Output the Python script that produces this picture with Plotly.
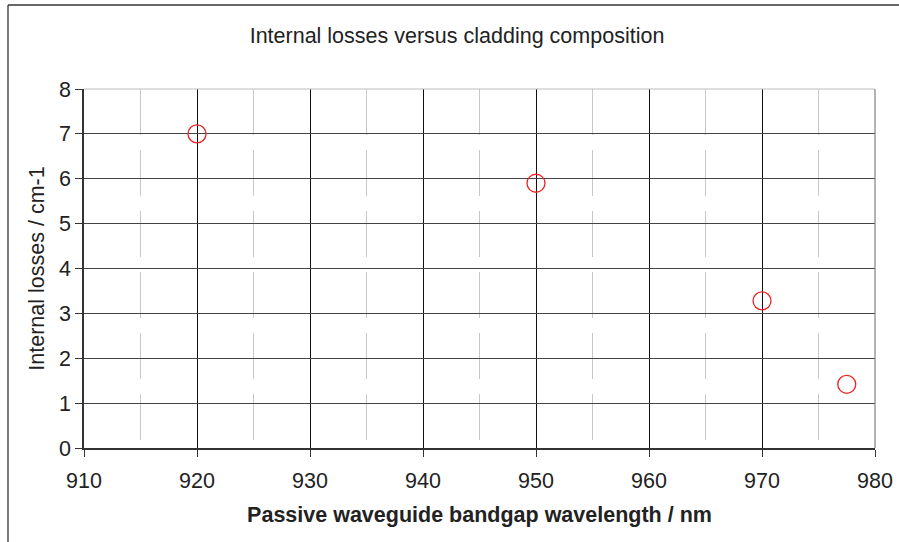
import plotly.graph_objects as go

# Data
wavelength_nm = [920, 950, 970, 977.5]
internal_losses = [7.0, 5.9, 3.28, 1.42]

x_ticks = [910, 920, 930, 940, 950, 960, 970, 980]
y_ticks = [0, 1, 2, 3, 4, 5, 6, 7, 8]

W, H = 899, 542
ML, MR, MT, MB = 84, 24, 89, 94
PW, PH = W - ML - MR, H - MT - MB

def px_x(p):
    return (p - ML) / PW

def px_y(p):
    return (H - MB - p) / PH

FONT = "Liberation Sans, Arial, sans-serif"
TXT = "#222222"
FS = 21.5

fig = go.Figure()
fig.add_trace(go.Scatter(
    x=wavelength_nm, y=internal_losses, mode="markers",
    marker=dict(symbol="circle-open", size=18, color="#ee2222",
                line=dict(width=1.3, color="#ee2222")),
    showlegend=False, cliponaxis=False,
))

fig.update_layout(
    width=W, height=H,
    margin=dict(l=ML, r=MR, t=MT, b=MB, pad=0, autoexpand=False),
    paper_bgcolor="white", plot_bgcolor="white",
    font=dict(family=FONT, color=TXT, size=FS),
    title=dict(text="Internal losses versus cladding composition",
               x=457 / W, xref="container", xanchor="center",
               y=(H - 35) / H, yanchor="middle",
               font=dict(size=FS, color=TXT, family=FONT)),
    xaxis=dict(
        range=[910, 980], tickvals=x_ticks, ticktext=[str(v) for v in x_ticks],
        automargin=False,
        showgrid=True, gridcolor="#111111", gridwidth=1,
        showline=True, linecolor="#333333", linewidth=1.5,
        ticks="outside", ticklen=7, tickcolor="#333333", tickwidth=1,
        ticklabelstandoff=5,
        tickfont=dict(size=FS, color=TXT),
        zeroline=False,
        minor=dict(dtick=5, tick0=915, showgrid=True, gridcolor="#c8c8c8",
                   gridwidth=1, griddash="46px,15px", ticks=""),
        title=dict(text="<b>Passive waveguide bandgap wavelength / nm</b>",
                   font=dict(size=FS, color=TXT), standoff=15),
    ),
    yaxis=dict(
        range=[0, 8], tickvals=y_ticks, ticktext=[str(v) for v in y_ticks],
        automargin=False,
        showgrid=True, gridcolor="#444444", gridwidth=1,
        showline=True, linecolor="#333333", linewidth=1.5,
        ticks="outside", ticklen=7, tickcolor="#333333", tickwidth=1,
        tickfont=dict(size=FS, color=TXT),
        zeroline=False,
        title=dict(text="Internal losses / cm-1", font=dict(size=FS, color=TXT),
                   standoff=8),
    ),
    shapes=[
        dict(type="line", xref="paper", yref="paper", x0=0, x1=1, y0=1, y1=1,
             line=dict(color="#bdbdbd", width=1.2), layer="above"),
        dict(type="line", xref="paper", yref="paper", x0=1, x1=1, y0=0, y1=1,
             line=dict(color="#808080", width=1.2), layer="above"),
        # outer chart border: top and left edges
        dict(type="line", xref="paper", yref="paper",
             x0=px_x(8), x1=px_x(899), y0=px_y(5), y1=px_y(5),
             line=dict(color="#333333", width=1.3), layer="above"),
        dict(type="line", xref="paper", yref="paper",
             x0=px_x(8), x1=px_x(8), y0=px_y(5), y1=px_y(542),
             line=dict(color="#333333", width=1.3), layer="above"),
    ],
)

fig.write_html(
    "out.html",
    config={"displayModeBar": False},
    post_script="document.body.style.margin='0';document.body.style.overflow='hidden';",
)
